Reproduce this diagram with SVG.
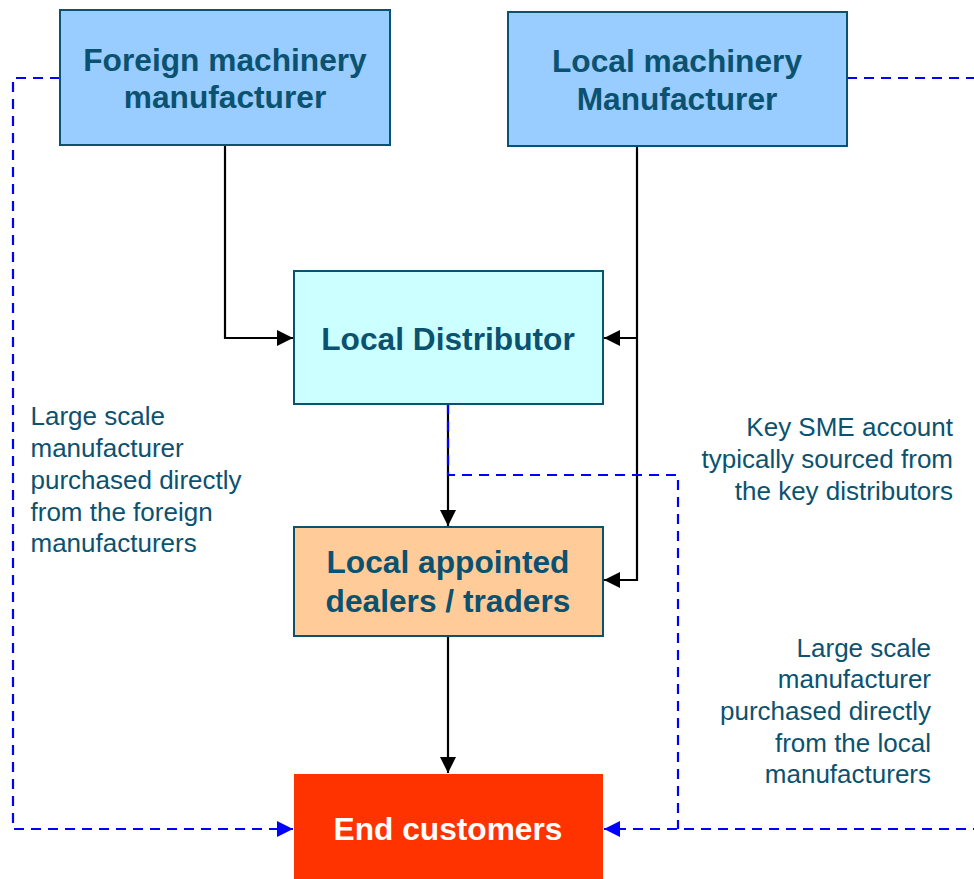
<svg xmlns="http://www.w3.org/2000/svg" width="974" height="879" viewBox="0 0 974 879">
<defs>
<style>
.box{stroke:#0B5270;stroke-width:2}
.title{font-family:"Liberation Sans",Arial,sans-serif;font-weight:bold;font-size:31.7px;fill:#0B5270;text-anchor:middle}
.note{font-family:"Liberation Sans",Arial,sans-serif;font-size:26px;fill:#0B5270}
.solid{fill:none;stroke:#000;stroke-width:2.2}
.dash{fill:none;stroke:#0000FF;stroke-width:2.2;stroke-dasharray:10 7}
</style>
<marker id="ab" markerUnits="userSpaceOnUse" markerWidth="16" markerHeight="16" refX="16" refY="8" orient="auto">
<path d="M0,0 L16,8 L0,16 Z" fill="#000"/>
</marker>
<marker id="au" markerUnits="userSpaceOnUse" markerWidth="16" markerHeight="16" refX="16" refY="8" orient="auto">
<path d="M0,0 L16,8 L0,16 Z" fill="#0000FF"/>
</marker>
</defs>
<rect width="974" height="879" fill="#fff"/>
<g id="connectors">
<path class="solid" d="M225,145 V338 H293" marker-end="url(#ab)"/>
<path class="solid" d="M637,146 V580 H604" marker-end="url(#ab)"/>
<path class="solid" d="M637,338 H604" marker-end="url(#ab)"/>
<path class="solid" d="M448,404 V526" marker-end="url(#ab)"/>
<path class="solid" d="M448,636 V773" marker-end="url(#ab)"/>
<path class="dash" d="M60,78 H13 V829 H293" marker-end="url(#au)"/>
<path class="dash" d="M847,78 H990 V829 H604" marker-end="url(#au)"/>
<path class="dash" d="M448,404 V475 H678 V829"/>
</g>
<g id="foreign">
<rect class="box" x="60" y="10" width="330" height="135" fill="#99CCFF"/>
<text class="title" x="225" y="71">Foreign machinery</text>
<text class="title" x="225" y="108">manufacturer</text>
</g>
<g id="localmfr">
<rect class="box" x="508" y="12" width="339" height="134" fill="#99CCFF"/>
<text class="title" x="677" y="72">Local machinery</text>
<text class="title" x="677" y="110">Manufacturer</text>
</g>
<g id="distributor">
<rect class="box" x="294" y="271" width="309" height="133" fill="#CCFFFF"/>
<text class="title" x="448" y="350">Local Distributor</text>
</g>
<g id="dealers">
<rect class="box" x="294" y="527" width="309" height="109" fill="#FFCC99"/>
<text class="title" x="448" y="573">Local appointed</text>
<text class="title" x="448" y="612">dealers / traders</text>
</g>
<g id="customers">
<rect x="294" y="774" width="309" height="105" fill="#FF3300"/>
<text class="title" x="448" y="840" fill="#fff" style="fill:#fff">End customers</text>
</g>
<g id="note-left" class="note">
<text x="30.5" y="425">Large scale</text>
<text x="30.5" y="457">manufacturer</text>
<text x="30.5" y="489">purchased directly</text>
<text x="30.5" y="521">from the foreign</text>
<text x="30.5" y="552">manufacturers</text>
</g>
<g id="note-sme" class="note" text-anchor="end">
<text x="953" y="436">Key SME account</text>
<text x="953" y="468">typically sourced from</text>
<text x="953" y="500">the key distributors</text>
</g>
<g id="note-right" class="note" text-anchor="end">
<text x="931" y="657">Large scale</text>
<text x="931" y="688">manufacturer</text>
<text x="931" y="720">purchased directly</text>
<text x="931" y="752">from the local</text>
<text x="931" y="783">manufacturers</text>
</g>
</svg>
